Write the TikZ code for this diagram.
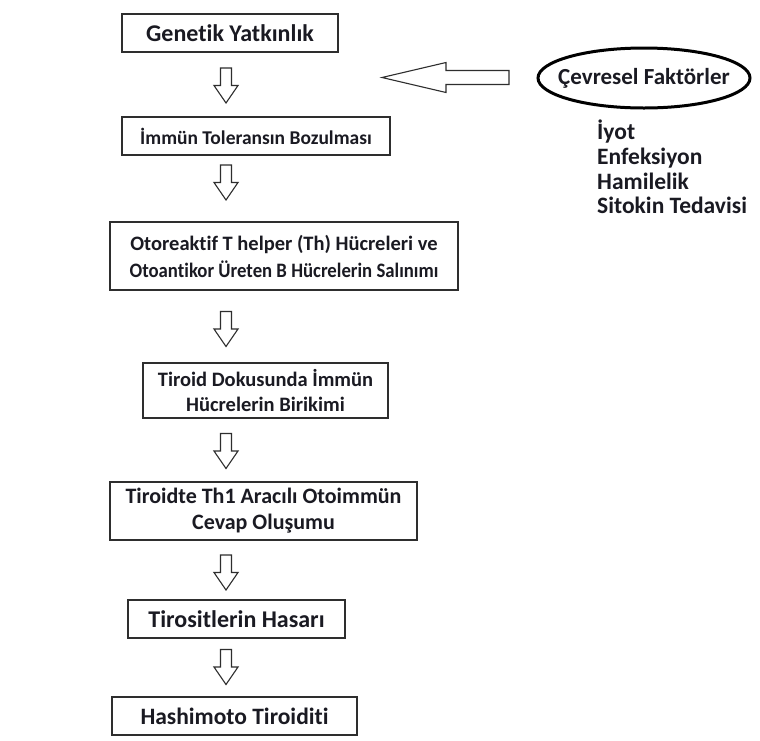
\documentclass[tikz,border=0pt]{standalone}
\usepackage{fontspec}
\usepackage{graphicx}
\setmainfont{Carlito}[Ligatures=NoCommon]
\usetikzlibrary{shapes.geometric,calc}
\definecolor{txt}{HTML}{1A1A22}
\definecolor{bord}{HTML}{2E2E2E}
\newcommand{\fsz}[2]{\fontsize{#1}{#2}\selectfont}
\tikzset{
  box/.style={draw=bord, line width=1.8pt, fill=white, align=center, inner sep=2pt, text=txt},
  darrow/.pic={\draw[line width=1.1pt, draw=bord, fill=white, line join=miter]
    (-5.5,-17.5) -- (5.5,-17.5) -- (5.5,0) -- (12,0) -- (0,17.5) -- (-12,0) -- (-5.5,0) -- cycle;},
  larrow/.pic={\draw[line width=1.1pt, draw=bord, fill=white, line join=miter]
    (63,-7) -- (0,-7) -- (0,-15) -- (-64,0) -- (0,15) -- (0,7) -- (63,7) -- cycle;},
  listtxt/.style={font=\bfseries\fsz{23.5}{24.7}, text=txt, align=left, inner sep=0pt},
}
\begin{document}
\begin{tikzpicture}[x=1pt,y=-1pt]
\useasboundingbox[fill=white] (0,0) rectangle (760,740);

\node[box, font=\bfseries\fsz{24}{27}, minimum width=216, minimum height=38] (b1) at (230,33) {Genetik Yatkınlık};
\node[box, font=\bfseries\fsz{19.5}{26}, minimum width=268, minimum height=38] (b2) at (256,136) {İmmün Toleransın Bozulması};
\node[box, font=\bfseries\fsz{20.5}{27}, minimum width=348, minimum height=68] (b3) at (284,256) {Otoreaktif T helper (Th) Hücreleri ve\\\scalebox{0.915}[1]{Otoantikor Üreten B Hücrelerin Salınımı}};
\node[box, font=\bfseries\fsz{20.5}{25}, minimum width=245, minimum height=55] (b4) at (265.5,390.5) {Tiroid Dokusunda İmmün\\Hücrelerin Birikimi};
\node[box, font=\bfseries\fsz{22}{26}, minimum width=307, minimum height=58] (b5) at (263.5,511) {Tiroidte Th1 Aracılı Otoimmün\\Cevap Oluşumu};
\node[box, font=\bfseries\fsz{24}{27}, minimum width=217, minimum height=38] (b6) at (236.5,619) {Tirositlerin Hasarı};
\node[box, font=\bfseries\fsz{23.5}{27}, minimum width=245, minimum height=38] (b7) at (234.5,716) {Hashimoto Tiroiditi};

\coordinate (a1) at (226,85.5);
\coordinate (a2) at (226,182.5);
\coordinate (a3) at (226,329);
\coordinate (a4) at (226,451);
\coordinate (a5) at (226,572.5);
\coordinate (a6) at (226,667);
\foreach \c in {a1,a2,a3,a4,a5,a6} {\pic at (\c) {darrow};}

\node[draw=black, line width=3pt, ellipse, minimum width=212, minimum height=60, inner sep=0pt] (env) at (644,78) {};
\node[font=\bfseries\fsz{23}{26}, text=txt, inner sep=0pt] (envt) at (env.center) {Çevresel Faktörler};
\coordinate (la) at (446,77.5);
\pic at (la) {larrow};

\node[listtxt, anchor=north west] (list) at (597,120) {İyot\\Enfeksiyon\\Hamilelik\\Sitokin Tedavisi};
\end{tikzpicture}
\end{document}
